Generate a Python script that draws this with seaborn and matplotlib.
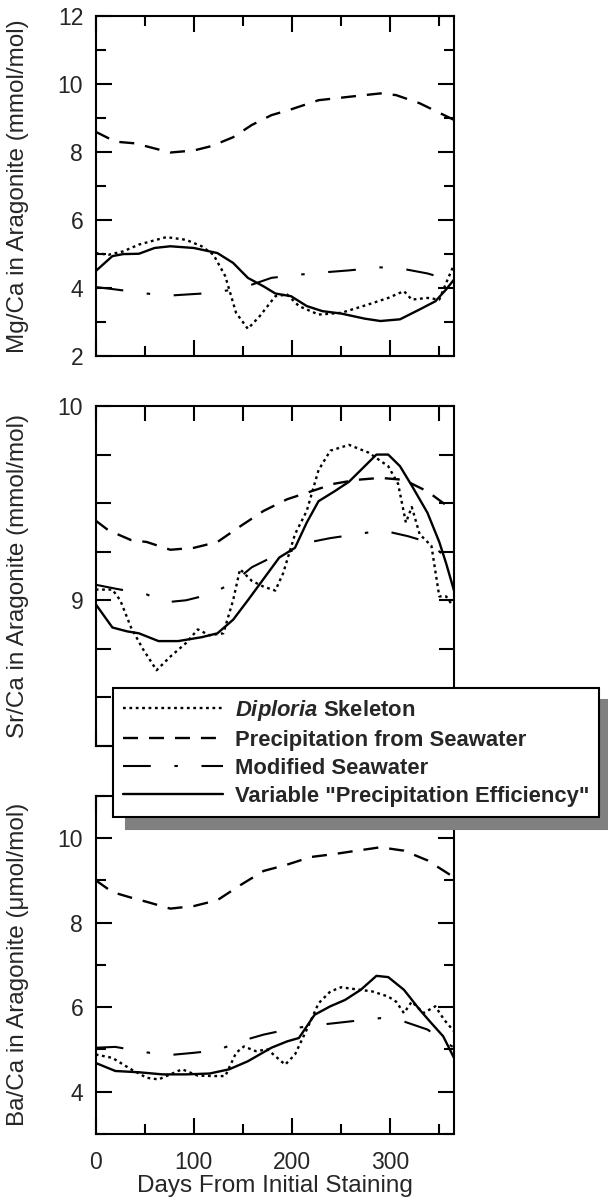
import numpy as np
import pandas as pd
import matplotlib
matplotlib.use("Agg")
import matplotlib.pyplot as plt
import seaborn as sns
from matplotlib.ticker import FixedLocator, FuncFormatter

# ---------------- data ----------------
# Panel 1: Mg/Ca (mmol/mol)
mg_dip_x = [0, 13, 28, 44, 72, 92, 108, 120, 132, 143, 155, 167, 183, 195, 207, 227, 250, 278, 298, 314, 322, 338, 350, 357, 365]
mg_dip_y = [5.03, 4.98, 5.08, 5.28, 5.5, 5.42, 5.23, 4.98, 4.35, 3.27, 2.8, 3.17, 3.76, 3.81, 3.47, 3.22, 3.27, 3.52, 3.71, 3.91, 3.66, 3.71, 3.66, 4.15, 4.69]
mg_sea_x = [0, 20, 40, 76, 100, 118, 140, 159, 179, 199, 227, 258, 290, 306, 330, 365]
mg_sea_y = [8.6, 8.31, 8.26, 7.99, 8.05, 8.18, 8.44, 8.8, 9.09, 9.26, 9.53, 9.63, 9.73, 9.68, 9.44, 8.95]
mg_mod_x = [0, 20, 60, 76, 120, 140, 159, 179, 199, 227, 258, 290, 314, 338, 365]
mg_mod_y = [4.03, 3.96, 3.81, 3.78, 3.86, 3.96, 4.1, 4.3, 4.37, 4.45, 4.52, 4.61, 4.56, 4.43, 4.2]
mg_var_x = [0, 17, 28, 44, 60, 76, 100, 124, 140, 155, 171, 183, 199, 215, 231, 250, 274, 290, 310, 330, 346, 357, 365]
mg_var_y = [4.5, 4.94, 5.0, 5.01, 5.18, 5.23, 5.18, 5.03, 4.74, 4.3, 4.05, 3.84, 3.76, 3.47, 3.32, 3.25, 3.1, 3.03, 3.08, 3.37, 3.61, 3.96, 4.25]

# Panel 2: Sr/Ca (mmol/mol)
sr_dip_x = [0, 17, 25, 36, 48, 62, 76, 92, 104, 116, 130, 140, 147, 159, 171, 183, 191, 203, 215, 227, 239, 258, 278, 298, 308, 316, 322, 330, 342, 350, 357, 364]
sr_dip_y = [9.055, 9.055, 9.0, 8.86, 8.75, 8.64, 8.71, 8.78, 8.85, 8.82, 8.83, 9.0, 9.16, 9.1, 9.07, 9.05, 9.14, 9.34, 9.46, 9.67, 9.77, 9.8, 9.76, 9.69, 9.6, 9.4, 9.48, 9.34, 9.28, 9.02, 9.02, 8.97]
sr_sea_x = [0, 13, 36, 52, 76, 100, 124, 147, 171, 195, 219, 243, 266, 290, 314, 338, 365]
sr_sea_y = [9.41, 9.36, 9.31, 9.3, 9.26, 9.27, 9.3, 9.38, 9.46, 9.52, 9.56, 9.6, 9.62, 9.63, 9.62, 9.56, 9.46]
sr_mod_x = [0, 20, 52, 72, 92, 116, 140, 159, 179, 203, 219, 239, 266, 292, 318, 338, 365]
sr_mod_y = [9.08, 9.06, 9.03, 8.99, 9.0, 9.03, 9.09, 9.17, 9.22, 9.26, 9.3, 9.32, 9.34, 9.36, 9.33, 9.3, 9.19]
sr_var_x = [0, 17, 32, 44, 64, 84, 108, 124, 140, 155, 171, 187, 203, 215, 227, 243, 258, 274, 286, 298, 310, 322, 338, 350, 357, 365]
sr_var_y = [8.98, 8.86, 8.84, 8.83, 8.79, 8.79, 8.81, 8.83, 8.9, 9.0, 9.11, 9.22, 9.27, 9.4, 9.51, 9.56, 9.61, 9.69, 9.75, 9.75, 9.69, 9.59, 9.45, 9.3, 9.19, 9.05]

# Panel 3: Ba/Ca (umol/mol)
ba_dip_x = [0, 17, 36, 52, 64, 76, 88, 104, 120, 132, 143, 151, 163, 175, 187, 193, 203, 215, 227, 239, 250, 266, 282, 298, 306, 314, 322, 334, 346, 355, 365]
ba_dip_y = [4.88, 4.8, 4.53, 4.33, 4.29, 4.41, 4.53, 4.38, 4.37, 4.37, 4.92, 5.07, 4.96, 5.0, 4.76, 4.64, 4.88, 5.47, 6.09, 6.37, 6.47, 6.42, 6.37, 6.25, 6.13, 5.86, 6.13, 5.86, 6.02, 5.7, 5.43]
ba_sea_x = [0, 17, 36, 52, 76, 100, 124, 147, 171, 195, 219, 243, 266, 290, 314, 338, 365]
ba_sea_y = [9.0, 8.72, 8.59, 8.49, 8.33, 8.39, 8.53, 8.88, 9.22, 9.37, 9.55, 9.62, 9.7, 9.78, 9.7, 9.47, 9.07]
ba_mod_x = [0, 20, 52, 72, 100, 124, 147, 171, 195, 219, 243, 266, 290, 314, 338, 365]
ba_mod_y = [5.04, 5.06, 4.93, 4.86, 4.92, 4.98, 5.19, 5.35, 5.47, 5.56, 5.62, 5.68, 5.74, 5.66, 5.47, 5.04]
ba_var_x = [0, 20, 44, 68, 92, 116, 136, 155, 179, 195, 207, 223, 239, 254, 270, 286, 298, 314, 330, 342, 354, 365]
ba_var_y = [4.68, 4.49, 4.46, 4.41, 4.41, 4.43, 4.53, 4.72, 5.04, 5.19, 5.27, 5.82, 6.02, 6.17, 6.41, 6.74, 6.71, 6.41, 5.94, 5.62, 5.31, 4.8]

series_names = ["Diploria Skeleton", "Precipitation from Seawater",
                "Modified Seawater", 'Variable "Precipitation Efficiency"']
legend_labels = [r"$\mathbfit{Diploria}$ Skeleton", "Precipitation from Seawater",
                 "Modified Seawater", 'Variable "Precipitation Efficiency"']

ylabels = ["Mg/Ca in Aragonite (mmol/mol)", "Sr/Ca in Aragonite (mmol/mol)",
           "Ba/Ca in Aragonite (\u03bcmol/mol)"]
xlabel = "Days From Initial Staining"
x_ticklabels = [0, 100, 200, 300]

# ---------------- style ----------------
sns.set_style("ticks")
plt.rcParams["font.family"] = ["Liberation Sans", "DejaVu Sans"]
plt.rcParams["mathtext.fontset"] = "custom"
plt.rcParams["mathtext.rm"] = "Liberation Sans:bold"
plt.rcParams["mathtext.bfit"] = "Liberation Sans:italic:bold"
plt.rcParams["lines.scale_dashes"] = False
plt.rcParams["axes.linewidth"] = 1.5

styles = {
    "Diploria Skeleton": dict(linestyle=(0, (2.0, 2.6)), linewidth=1.7),
    "Precipitation from Seawater": dict(linestyle=(0, (10.8, 7.9)), linewidth=1.7),
    "Modified Seawater": dict(linestyle=(0, (20, 17, 2.5, 17)), linewidth=1.5),
    'Variable "Precipitation Efficiency"': dict(linestyle="-", linewidth=1.7),
}

W, H = 608, 1199
fig = plt.figure(figsize=(W / 100, H / 100), dpi=100)

left = 95.7 / W
width = (454 - 95.7) / W
panels_px = [(16.3, 356.0), (406.0, 746.0), (795.7, 1134.0)]
axes = []
for top, bot in panels_px:
    ax = fig.add_axes([left, 1 - bot / H, width, (bot - top) / H])
    axes.append(ax)

panel_data = [
    [(mg_dip_x, mg_dip_y), (mg_sea_x, mg_sea_y), (mg_mod_x, mg_mod_y), (mg_var_x, mg_var_y)],
    [(sr_dip_x, sr_dip_y), (sr_sea_x, sr_sea_y), (sr_mod_x, sr_mod_y), (sr_var_x, sr_var_y)],
    [(ba_dip_x, ba_dip_y), (ba_sea_x, ba_sea_y), (ba_mod_x, ba_mod_y), (ba_var_x, ba_var_y)],
]

for ax, pdata in zip(axes, panel_data):
    for name, (xs, ys) in zip(series_names, pdata):
        df = pd.DataFrame({"day": xs, "val": ys})
        sns.lineplot(data=df, x="day", y="val", ax=ax, color="black",
                     estimator=None, sort=False, legend=False, label=name,
                     **styles[name])

ylims = [(2, 12), (8.25, 10), (3, 11)]
for i, ax in enumerate(axes):
    ax.set_xlim(0, 365)
    ax.set_ylim(*ylims[i])
    ax.set_xlabel("")
    ax.set_ylabel(ylabels[i], fontsize=17.5)
    ax.yaxis.set_label_coords(-0.186, 0.5)
    for s in ax.spines.values():
        s.set_visible(True)
        s.set_linewidth(1.5)
        s.set_color("black")
    ax.tick_params(which="both", direction="in", top=True, right=True,
                   width=1.5, color="black", labelsize=16.5)
    ax.tick_params(which="major", length=11.5)
    ax.tick_params(which="minor", length=7)
    ax.tick_params(axis="y", which="both", pad=9)
    ax.tick_params(axis="x", which="both", pad=12)

# x ticks
for i, ax in enumerate(axes):
    if i == 1:
        ax.xaxis.set_major_locator(FixedLocator(np.arange(0, 351, 50)))
        ax.xaxis.set_minor_locator(FixedLocator([]))
    else:
        ax.xaxis.set_major_locator(FixedLocator(np.arange(0, 351, 100)))
        ax.xaxis.set_minor_locator(FixedLocator(np.arange(50, 351, 100)))
    if i == 2:
        ax.xaxis.set_major_formatter(FuncFormatter(
            lambda v, p: f"{int(round(v))}" if int(round(v)) in x_ticklabels else ""))
        ax.set_xlabel(xlabel, fontsize=17.5, labelpad=1)
    else:
        ax.set_xticklabels([])

# y ticks
axes[0].yaxis.set_major_locator(FixedLocator(np.arange(2, 12.1, 2)))
axes[0].yaxis.set_minor_locator(FixedLocator(np.arange(3, 12, 2)))
axes[0].yaxis.set_major_formatter(FuncFormatter(lambda v, p: f"{v:.0f}"))
axes[1].yaxis.set_major_locator(FixedLocator(np.arange(8.25, 10.01, 0.25)))
axes[1].yaxis.set_minor_locator(FixedLocator([]))
axes[1].yaxis.set_major_formatter(FuncFormatter(
    lambda v, p: f"{v:.0f}" if abs(v - round(v)) < 1e-6 else ""))
axes[2].yaxis.set_major_locator(FixedLocator(np.arange(4, 10.1, 2)))
axes[2].yaxis.set_minor_locator(FixedLocator(np.arange(3, 11.1, 2)))
axes[2].yaxis.set_major_formatter(FuncFormatter(lambda v, p: f"{v:.0f}"))
axes[1].tick_params(which="major", length=11)

# legend
handles = axes[0].get_lines()[:4]
leg = fig.legend(handles, legend_labels, loc="upper left",
                 bbox_to_anchor=(113.3 / W, 1 - 687.7 / H),
                 bbox_transform=fig.transFigure, borderaxespad=0,
                 frameon=True, fancybox=False, framealpha=1,
                 edgecolor="black", facecolor="white",
                 shadow={"ox": 9.4, "oy": -8.8, "facecolor": "#808080",
                         "edgecolor": "#808080", "alpha": 1},
                 prop={"weight": "bold", "size": 15.8},
                 handlelength=4.55, handletextpad=0.55,
                 labelspacing=0.32, borderpad=0.45)
leg.get_frame().set_linewidth(1.5)

fig.savefig("out.png", dpi=100)
